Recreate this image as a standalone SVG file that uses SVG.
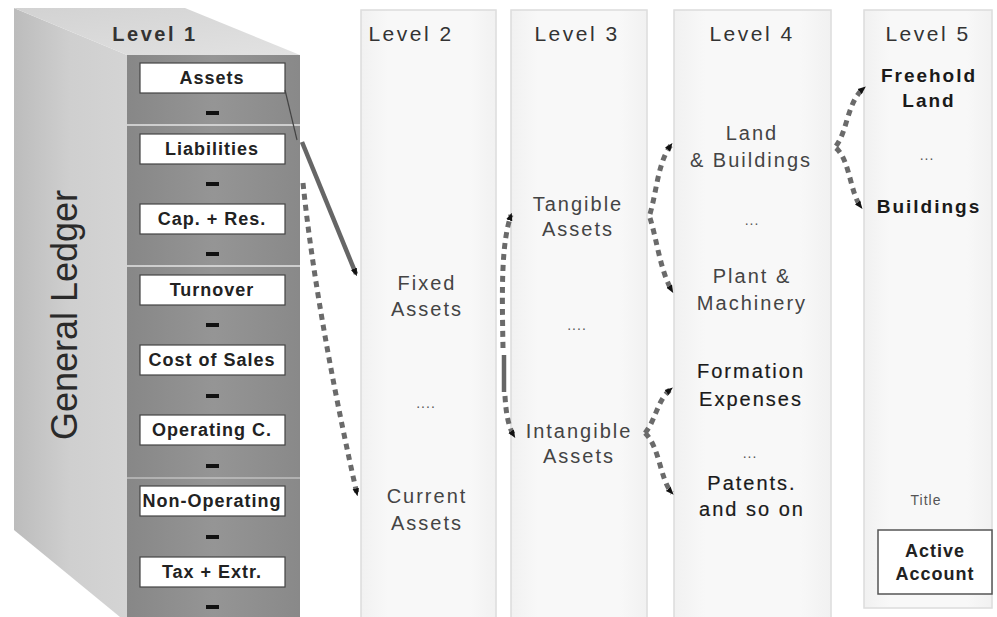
<svg xmlns="http://www.w3.org/2000/svg" width="997" height="617" viewBox="0 0 997 617">
  <defs>
    <linearGradient id="sideFace" x1="0" y1="0" x2="1" y2="0">
      <stop offset="0" stop-color="#bcbcbc"/>
      <stop offset="0.5" stop-color="#cfcfcf"/>
      <stop offset="1" stop-color="#d4d4d4"/>
    </linearGradient>
    <linearGradient id="topFace" x1="0" y1="0" x2="1" y2="1">
      <stop offset="0" stop-color="#d2d2d2"/>
      <stop offset="1" stop-color="#e2e2e2"/>
    </linearGradient>
    <linearGradient id="frontFace" x1="0" y1="0" x2="1" y2="0">
      <stop offset="0" stop-color="#878787"/>
      <stop offset="0.5" stop-color="#959595"/>
      <stop offset="1" stop-color="#898989"/>
    </linearGradient>
    <linearGradient id="colFill" x1="0" y1="0" x2="1" y2="0">
      <stop offset="0" stop-color="#f1f1f1"/>
      <stop offset="0.2" stop-color="#f8f8f8"/>
      <stop offset="0.8" stop-color="#f8f8f8"/>
      <stop offset="1" stop-color="#f1f1f1"/>
    </linearGradient>
    <marker id="tip" viewBox="0 0 10 10" refX="7" refY="5" markerWidth="8" markerHeight="8" orient="auto" markerUnits="userSpaceOnUse">
      <path d="M0,1 L10,5 L0,9 z" fill="#111"/>
    </marker>
    <style>
      .lvl { font-family: "Liberation Sans", Arial, sans-serif; font-size: 21px; fill: #333; letter-spacing: 2.5px; text-anchor: middle; }
      .lvl1 { font-weight: bold; font-size: 20px; }
      .acct { fill: #fff; stroke: #444; stroke-width: 1.2; }
      .acctText { font-family: "Liberation Sans", Arial, sans-serif; font-size: 18px; font-weight: bold; fill: #222; letter-spacing: 1px; text-anchor: middle; }
      .sep { fill: #111; }
      .item { font-family: "Liberation Sans", Arial, sans-serif; font-size: 20px; fill: #444; letter-spacing: 2px; text-anchor: middle; }
      .dark { fill: #1a1a1a; stroke: #1a1a1a; stroke-width: 0.2; }
      .bold { font-weight: bold; font-size: 19px; fill: #1a1a1a; stroke: none; }
      .dots { font-family: "Liberation Sans", Arial, sans-serif; font-size: 14px; fill: #555; text-anchor: middle; letter-spacing: 1px; }
      .col { fill: url(#colFill); stroke: #dcdcdc; stroke-width: 1.5; }
      .dash { fill: none; stroke: #6a6a6a; stroke-width: 5; stroke-dasharray: 6 5; marker-end: url(#tip); }
      .solid { fill: none; stroke: #666; stroke-width: 4.5; }
    </style>
  </defs>

  <rect width="997" height="617" fill="#fff"/>

  <!-- Level 1: the general ledger block -->
  <g id="general-ledger">
    <polygon points="14,8 127,55 127,617 120,617 14,530" fill="url(#sideFace)"/>
    <polygon points="14,8 185,8 300,55 127,55" fill="url(#topFace)"/>
    <rect x="127" y="55" width="173" height="562" fill="url(#frontFace)"/>
    <line x1="127" y1="125" x2="300" y2="125" stroke="#e4e4e4" stroke-width="1.5"/>
    <line x1="127" y1="266" x2="300" y2="266" stroke="#e4e4e4" stroke-width="1.5"/>
    <line x1="127" y1="478" x2="300" y2="478" stroke="#d8d8d8" stroke-width="1.2"/>
    <text transform="translate(77,315) rotate(-90)" font-family="Liberation Sans, Arial, sans-serif" font-size="36" fill="#2a2a2a" text-anchor="middle">General Ledger</text>
    <text class="lvl lvl1" x="155" y="41">Level 1</text>
  </g>

  <g id="acct-assets">
    <rect class="acct" x="140" y="63" width="145" height="30"/>
    <text class="acctText" x="212" y="84">Assets</text>
    <rect class="sep" x="206" y="111" width="13" height="4"/>
  </g>
  <g id="acct-liabilities">
    <rect class="acct" x="140" y="134" width="145" height="30"/>
    <text class="acctText" x="212" y="155">Liabilities</text>
    <rect class="sep" x="206" y="182" width="13" height="4"/>
  </g>
  <g id="acct-capital">
    <rect class="acct" x="140" y="204" width="145" height="30"/>
    <text class="acctText" x="212" y="225">Cap. + Res.</text>
    <rect class="sep" x="206" y="252" width="13" height="4"/>
  </g>
  <g id="acct-turnover">
    <rect class="acct" x="140" y="275" width="145" height="30"/>
    <text class="acctText" x="212" y="296">Turnover</text>
    <rect class="sep" x="206" y="323" width="13" height="4"/>
  </g>
  <g id="acct-cost-of-sales">
    <rect class="acct" x="140" y="345" width="145" height="30"/>
    <text class="acctText" x="212" y="366">Cost of Sales</text>
    <rect class="sep" x="206" y="394" width="13" height="4"/>
  </g>
  <g id="acct-operating">
    <rect class="acct" x="140" y="415" width="145" height="30"/>
    <text class="acctText" x="212" y="436">Operating C.</text>
    <rect class="sep" x="206" y="464" width="13" height="4"/>
  </g>
  <g id="acct-non-operating">
    <rect class="acct" x="140" y="486" width="145" height="30"/>
    <text class="acctText" x="212" y="507" letter-spacing="0.3">Non-Operating</text>
    <rect class="sep" x="206" y="535" width="13" height="4"/>
  </g>
  <g id="acct-tax">
    <rect class="acct" x="140" y="557" width="145" height="30"/>
    <text class="acctText" x="212" y="578">Tax + Extr.</text>
    <rect class="sep" x="206" y="605" width="13" height="4"/>
  </g>

  <!-- Level columns -->
  <g id="level-2">
    <rect class="col" x="361" y="10" width="135" height="612"/>
    <text class="lvl" x="411" y="41">Level 2</text>
    <text class="item" x="427" y="290">Fixed</text>
    <text class="item" x="427" y="316">Assets</text>
    <text class="dots" x="426" y="408">....</text>
    <text class="item" x="427" y="503">Current</text>
    <text class="item" x="427" y="530">Assets</text>
  </g>

  <g id="level-3">
    <rect class="col" x="511" y="10" width="136" height="612"/>
    <text class="lvl" x="577" y="41">Level 3</text>
    <text class="item" x="578" y="211">Tangible</text>
    <text class="item" x="578" y="236">Assets</text>
    <text class="dots" x="577" y="330">....</text>
    <text class="item" x="579" y="438">Intangible</text>
    <text class="item" x="579" y="463">Assets</text>
  </g>

  <g id="level-4">
    <rect class="col" x="674" y="10" width="157" height="612"/>
    <text class="lvl" x="752" y="41">Level 4</text>
    <text class="item" x="752" y="140">Land</text>
    <text class="item" x="751" y="167">&amp; Buildings</text>
    <text class="dots" x="752" y="225">...</text>
    <text class="item" x="752" y="283">Plant &amp;</text>
    <text class="item" x="752" y="310">Machinery</text>
    <text class="item dark" x="751" y="378">Formation</text>
    <text class="item dark" x="751" y="406">Expenses</text>
    <text class="dots" x="750" y="458">...</text>
    <text class="item dark" x="752" y="490">Patents.</text>
    <text class="item dark" x="752" y="516">and so on</text>
  </g>

  <g id="level-5">
    <rect class="col" x="864" y="10" width="128" height="598"/>
    <text class="lvl" x="928" y="41">Level 5</text>
    <text class="item bold" x="929" y="82">Freehold</text>
    <text class="item bold" x="929" y="107">Land</text>
    <text class="dots" x="927" y="160">...</text>
    <text class="item bold" x="929" y="213">Buildings</text>
    <text class="dots" x="926" y="505" font-size="14" fill="#444">Title</text>
    <rect x="878" y="530" width="114" height="64" fill="#fff" stroke="#555" stroke-width="1.5"/>
    <text class="acctText" x="935" y="557">Active</text>
    <text class="acctText" x="935" y="580">Account</text>
  </g>

  <!-- Connectors -->
  <g id="connectors">
    <!-- Assets to Fixed Assets -->
    <path d="M285,90 L297,140" fill="none" stroke="#444" stroke-width="1.2"/>
    <path class="solid" d="M302,142 L356,274" marker-end="url(#tip)"/>
    <!-- Liabilities to Current Assets -->
    <path class="dash" d="M303,183 C314,290 338,410 357,494"/>
    <!-- Fixed Assets to Tangible / Intangible -->
    <path class="solid" d="M504,355 L504,392"/>
    <path class="dash" d="M503,348 C502,290 501,245 511,215"/>
    <path class="dash" d="M505,396 C506,415 509,428 514,436"/>
    <!-- Tangible Assets to Land & Buildings / Plant & Machinery -->
    <path class="dash" d="M650,214 C657,190 658,162 671,145"/>
    <path class="dash" d="M650,218 C657,240 660,270 672,291"/>
    <!-- Intangible Assets to Formation Expenses / Patents -->
    <path class="dash" d="M645,433 C656,420 657,400 671,389"/>
    <path class="dash" d="M645,433 C660,447 660,480 672,493"/>
    <!-- Land & Buildings to Freehold Land / Buildings -->
    <path class="dash" d="M836,146 C848,130 847,102 864,88"/>
    <path class="dash" d="M836,148 C850,160 850,193 861,207"/>
  </g>
</svg>
